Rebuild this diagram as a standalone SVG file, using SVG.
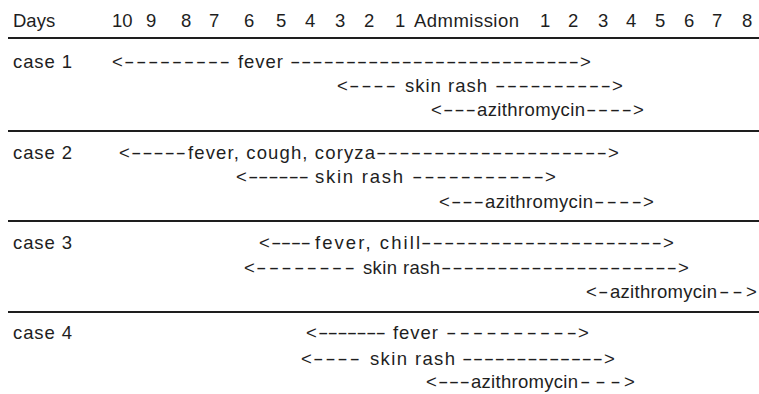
<svg xmlns="http://www.w3.org/2000/svg" width="759" height="394" viewBox="0 0 759 394">
<style>
text{font-family:"Liberation Sans",Arial,sans-serif;font-size:18.5px;fill:#1e1e1e}
.rule{stroke:#1e1e1e;stroke-width:2}
</style>
<rect width="759" height="394" fill="#fff"/>
<g id="rules">
<line class="rule" x1="8" y1="38" x2="759" y2="38"/>
<line class="rule" x1="8" y1="131" x2="759" y2="131"/>
<line class="rule" x1="8" y1="221" x2="759" y2="221"/>
<line class="rule" x1="8" y1="312" x2="759" y2="312"/>
</g>
<g id="header">
<text x="13" y="27">Days</text>
<text x="112" y="27">10</text>
<text x="146" y="27">9</text>
<text x="181" y="27">8</text>
<text x="209" y="27">7</text>
<text x="244" y="27">6</text>
<text x="276" y="27">5</text>
<text x="305" y="27">4</text>
<text x="335" y="27">3</text>
<text x="364" y="27">2</text>
<text x="395" y="27">1</text>
<text x="414" y="27" textLength="105" lengthAdjust="spacing">Admmission</text>
<text x="540" y="27">1</text>
<text x="568" y="27">2</text>
<text x="598" y="27">3</text>
<text x="626" y="27">4</text>
<text x="655" y="27">5</text>
<text x="684" y="27">6</text>
<text x="712" y="27">7</text>
<text x="742" y="27">8</text>
</g>
<g id="case1">
<text x="13" y="68" textLength="59" lengthAdjust="spacing">case 1</text>
<text x="112" y="68">&lt;</text>
<text transform="translate(124,68) scale(1.7,1)" textLength="62.4" lengthAdjust="spacing">---------</text>
<text x="238" y="68" textLength="45" lengthAdjust="spacing">fever</text>
<text transform="translate(290,68) scale(1.7,1)" textLength="170" lengthAdjust="spacing">--------------------------</text>
<text x="580" y="68">&gt;</text>
<text x="337" y="92">&lt;</text>
<text transform="translate(349,92) scale(1.7,1)" textLength="27.6" lengthAdjust="spacing">----</text>
<text x="405" y="92" textLength="82" lengthAdjust="spacing">skin rash</text>
<text transform="translate(495,92) scale(1.7,1)" textLength="68.2" lengthAdjust="spacing">----------</text>
<text x="612" y="92">&gt;</text>
<text x="431" y="116">&lt;</text>
<text transform="translate(443,116) scale(1.7,1)" textLength="19.4" lengthAdjust="spacing">---</text>
<text x="477" y="116" textLength="108" lengthAdjust="spacing">azithromycin</text>
<text transform="translate(586,116) scale(1.7,1)" textLength="27.1" lengthAdjust="spacing">----</text>
<text x="633" y="116">&gt;</text>
</g>
<g id="case2">
<text x="13" y="159" textLength="59" lengthAdjust="spacing">case 2</text>
<text x="119" y="159">&lt;</text>
<text transform="translate(131,159) scale(1.7,1)" textLength="32.4" lengthAdjust="spacing">-----</text>
<text x="188" y="159" textLength="187" lengthAdjust="spacing">fever, cough, coryza</text>
<text transform="translate(376,159) scale(1.7,1)" textLength="135.9" lengthAdjust="spacing">--------------------</text>
<text x="608" y="159">&gt;</text>
<text x="236" y="183">&lt;</text>
<text transform="translate(248,183) scale(1.7,1)" textLength="35.9" lengthAdjust="spacing">------</text>
<text x="315" y="183" textLength="88" lengthAdjust="spacing">skin rash</text>
<text transform="translate(412,183) scale(1.7,1)" textLength="77.6" lengthAdjust="spacing">-----------</text>
<text x="545" y="183">&gt;</text>
<text x="439" y="208">&lt;</text>
<text transform="translate(451,208) scale(1.7,1)" textLength="19.4" lengthAdjust="spacing">---</text>
<text x="485" y="208" textLength="108" lengthAdjust="spacing">azithromycin</text>
<text transform="translate(594,208) scale(1.7,1)" textLength="28.2" lengthAdjust="spacing">----</text>
<text x="643" y="208">&gt;</text>
</g>
<g id="case3">
<text x="13" y="249" textLength="59" lengthAdjust="spacing">case 3</text>
<text x="259" y="249">&lt;</text>
<text transform="translate(271,249) scale(1.7,1)" textLength="23.5" lengthAdjust="spacing">----</text>
<text x="315" y="249" textLength="105" lengthAdjust="spacing">fever, chill</text>
<text transform="translate(421,249) scale(1.7,1)" textLength="141.8" lengthAdjust="spacing">---------------------</text>
<text x="663" y="249">&gt;</text>
<text x="244" y="274">&lt;</text>
<text transform="translate(256,274) scale(1.7,1)" textLength="58.2" lengthAdjust="spacing">--------</text>
<text x="363" y="274" textLength="77" lengthAdjust="spacing">skin rash</text>
<text transform="translate(441,274) scale(1.7,1)" textLength="138.8" lengthAdjust="spacing">---------------------</text>
<text x="678" y="274">&gt;</text>
<text x="586" y="298">&lt;</text>
<text transform="translate(598,298) scale(1.7,1)" textLength="6.5" lengthAdjust="spacing">-</text>
<text x="610" y="298" textLength="107" lengthAdjust="spacing">azithromycin</text>
<text transform="translate(719,298) scale(1.7,1)" textLength="14" lengthAdjust="spacing">--</text>
<text x="746" y="298">&gt;</text>
</g>
<g id="case4">
<text x="13" y="339" textLength="59" lengthAdjust="spacing">case 4</text>
<text x="306" y="339">&lt;</text>
<text transform="translate(318,339) scale(1.7,1)" textLength="40" lengthAdjust="spacing">-------</text>
<text x="393" y="339" textLength="45" lengthAdjust="spacing">fever</text>
<text transform="translate(446,339) scale(1.7,1)" textLength="77.1" lengthAdjust="spacing">----------</text>
<text x="578" y="339">&gt;</text>
<text x="301" y="365">&lt;</text>
<text transform="translate(313,365) scale(1.7,1)" textLength="27.6" lengthAdjust="spacing">----</text>
<text x="370" y="365" textLength="85" lengthAdjust="spacing">skin rash</text>
<text transform="translate(462,365) scale(1.7,1)" textLength="82.9" lengthAdjust="spacing">-------------</text>
<text x="604" y="365">&gt;</text>
<text x="426" y="388">&lt;</text>
<text transform="translate(438,388) scale(1.7,1)" textLength="18.8" lengthAdjust="spacing">---</text>
<text x="471" y="388" textLength="107" lengthAdjust="spacing">azithromycin</text>
<text transform="translate(580,388) scale(1.7,1)" textLength="24" lengthAdjust="spacing">---</text>
<text x="624" y="388">&gt;</text>
</g>
</svg>
